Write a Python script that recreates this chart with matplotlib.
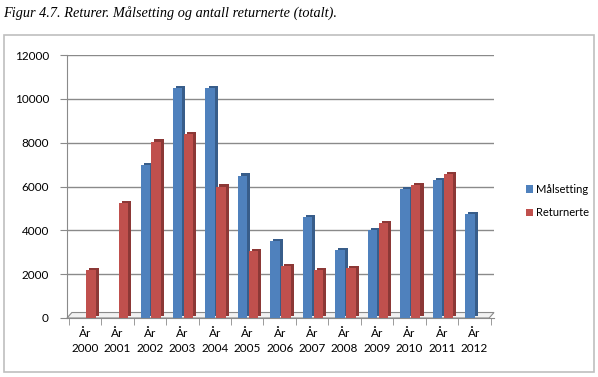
import matplotlib
matplotlib.use("Agg")
import matplotlib.pyplot as plt
import matplotlib.transforms as mtransforms
from matplotlib.patches import Rectangle, Polygon
import numpy as np

plt.rcParams.update({
    "font.family": ["Lato", "DejaVu Sans"],
    "font.size": 8.5,
})

YEARS = ["2000", "2001", "2002", "2003", "2004", "2005", "2006",
         "2007", "2008", "2009", "2010", "2011", "2012"]
MAALSETTING = [0, 0, 7000, 10500, 10500, 6500, 3500, 4600, 3100, 4000, 5900, 6300, 4750]
RETURNERTE = [2200, 5250, 8050, 8400, 6000, 3050, 2350, 2200, 2300, 4350, 6050, 6550, np.nan]
Y_TICKS = [0, 2000, 4000, 6000, 8000, 10000, 12000]

BLUE = "#4F81BD"
BLUE_SIDE = "#385D8A"
RED = "#C0504D"
RED_SIDE = "#8C3836"
GRID = "#8A8A8A"

W, H = 598, 377
fig = plt.figure(figsize=(W / 100, H / 100), dpi=100)

# ramme rundt diagrammet
fig.patches.append(Rectangle((4 / W, 5 / H), 590 / W, 337 / H, transform=fig.transFigure,
                             facecolor="none", edgecolor="#BFBFBF", linewidth=1.2))
fig.text(3 / W, 1 - 13 / H, "Figur 4.7. Returer. Målsetting og antall returnerte (totalt).",
         fontsize=10.3, style="italic", family=["Liberation Serif", "DejaVu Serif"],
         va="center", ha="left")

ax = fig.add_axes([67 / W, 1 - 318 / H, 427 / W, 263 / H])
ax.set_xlim(-0.55, 12.6)
ax.set_ylim(0, 12000)

x = np.arange(len(YEARS))
bw = 0.29
dx, dy = 2.2 / 72, 1.5 / 72  # 3D-side, i tommer
shift = ax.transData + mtransforms.ScaledTranslation(dx, dy, fig.dpi_scale_trans)

ax.bar(x - 0.14, MAALSETTING, bw, color=BLUE_SIDE, transform=shift, zorder=2)
ax.bar(x - 0.14, MAALSETTING, bw, color=BLUE, zorder=3, label="Målsetting")
ax.bar(x + 0.19, RETURNERTE, bw, color=RED_SIDE, transform=shift, zorder=4)
ax.bar(x + 0.19, RETURNERTE, bw, color=RED, zorder=5, label="Returnerte")

for yv in Y_TICKS[1:]:
    ax.axhline(yv, color=GRID, linewidth=1.0, zorder=1)

for s in ["top", "right"]:
    ax.spines[s].set_visible(False)
ax.spines["left"].set_color(GRID)
ax.spines["bottom"].set_color(GRID)

# gulv
floor = Polygon([(-0.55, 0), (12.45, 0), (12.6, 250), (-0.4, 250)], closed=True,
                facecolor="#F2F2F2", edgecolor=GRID, linewidth=0.8, zorder=1.5,
                clip_on=False)
ax.add_patch(floor)

ax.set_yticks(Y_TICKS)
ax.set_yticklabels([str(v) for v in Y_TICKS])
ax.tick_params(axis="y", length=5, color=GRID, pad=8)
ax.set_xticks(x)
ax.set_xticklabels([f"År\n{y}" for y in YEARS], linespacing=1.5)
ax.tick_params(axis="x", length=0, pad=7)
ax.set_xticks(np.arange(-0.5, 13, 1), minor=True)
ax.tick_params(axis="x", which="minor", length=5, color=GRID)

ax.legend(loc="center left", bbox_to_anchor=(516 / W, 1 - 201 / H),
          bbox_transform=fig.transFigure, frameon=False, fontsize=8,
          handlelength=0.6, handleheight=0.6, handletextpad=0.3, labelspacing=1.1)

fig.savefig("out.png", dpi=100)
